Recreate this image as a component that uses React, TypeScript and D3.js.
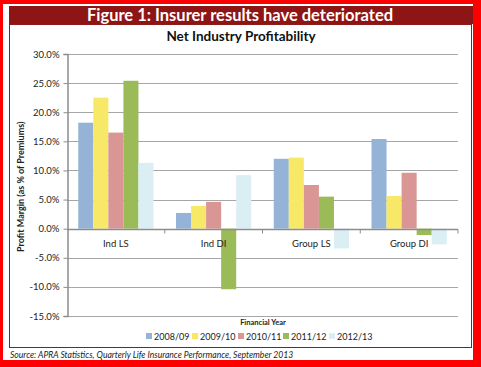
import React, { useEffect, useRef } from 'react';
import * as d3 from 'd3';

const categories = ['Ind LS', 'Ind DI', 'Group LS', 'Group DI'];
const years = ['2008/09', '2009/10', '2010/11', '2011/12', '2012/13'];
const colors = ['#95b3d7', '#f7e967', '#d99694', '#9bbb59', '#dbeef4'];
// one array per financial year, values per category (% of premiums)
const y0809 = [18.2, 2.7, 12.0, 15.4];
const y0910 = [22.5, 3.9, 12.2, 5.6];
const y1011 = [16.5, 4.6, 7.5, 9.6];
const y1112 = [25.4, -10.4, 5.5, -1.1];
const y1213 = [11.3, 9.2, -3.4, -2.7];
const seriesValues = [y0809, y0910, y1011, y1112, y1213];
const yTicks = [-15, -10, -5, 0, 5, 10, 15, 20, 25, 30];

const FONT = 'Lato, "Open Sans", sans-serif';

const Chart: React.FC = () => {
  const svgRef = useRef<SVGSVGElement>(null);

  useEffect(() => {
    if (!svgRef.current) return;
    const width = 481;
    const height = 367;
    const svg = d3.select(svgRef.current);
    svg.selectAll('*').remove();
    svg.attr('width', width).attr('height', height);

    // frame
    svg.append('rect').attr('width', width).attr('height', height).attr('fill', '#ff0000');
    svg.append('rect').attr('x', 3).attr('y', 4).attr('width', 470).attr('height', 356).attr('fill', '#fff');
    svg.append('rect').attr('x', 9).attr('y', 6).attr('width', 464).attr('height', 18).attr('fill', '#8e1515');
    svg.append('text')
      .attr('x', 240).attr('y', 20.5)
      .attr('text-anchor', 'middle')
      .attr('fill', '#fff')
      .attr('font-family', FONT)
      .attr('font-weight', 'bold')
      .attr('font-size', '16.5px')
      .text('Figure 1: Insurer results have deteriorated');
    svg.append('rect')
      .attr('x', 9.5).attr('y', 24.5).attr('width', 462).attr('height', 323)
      .attr('fill', 'none').attr('stroke', '#8e1a1a').attr('stroke-width', 1);

    svg.append('text')
      .attr('x', 241).attr('y', 40.5)
      .attr('text-anchor', 'middle')
      .attr('fill', '#111')
      .attr('font-family', FONT)
      .attr('font-weight', 'bold')
      .attr('font-size', '13.5px')
      .text('Net Industry Profitability');

    const left = 67;
    const right = 458;
    const y = d3.scaleLinear().domain([-15, 30]).range([316, 54]);
    const x0 = d3.scaleBand().domain(categories).range([left, right]).paddingInner(0.23).paddingOuter(0.115);
    const x1 = d3.scaleBand().domain(years).range([0, x0.bandwidth()]);

    // gridlines
    svg.append('g').selectAll('line').data(yTicks.filter(t => t !== 0)).join('line')
      .attr('x1', left).attr('x2', right)
      .attr('y1', d => Math.round(y(d)) + 0.5).attr('y2', d => Math.round(y(d)) + 0.5)
      .attr('stroke', '#a6a6a6').attr('stroke-width', 1);

    // bars
    const groups = svg.append('g').selectAll('g').data(categories).join('g')
      .attr('transform', d => `translate(${x0(d)},0)`);
    groups.selectAll('rect')
      .data((_, ci) => years.map((yr, si) => ({ yr, si, v: seriesValues[si][ci] })))
      .join('rect')
      .attr('x', d => x1(d.yr)!)
      .attr('width', x1.bandwidth())
      .attr('y', d => y(Math.max(0, d.v)))
      .attr('height', d => Math.abs(y(d.v) - y(0)))
      .attr('fill', d => colors[d.si]);

    // y axis
    const yAxis = d3.axisLeft(y).tickValues(yTicks).tickSize(4)
      .tickFormat(d => `${(d as number).toFixed(1)}%`);
    const ya = svg.append('g').attr('transform', `translate(${left + 0.5},0)`).call(yAxis);
    ya.select('.domain').attr('stroke', '#8c8c8c').attr('stroke-width', 1.5);
    ya.selectAll('.tick line').attr('stroke', '#8c8c8c');
    ya.selectAll('.tick text')
      .attr('x', -8)
      .attr('fill', '#222')
      .attr('font-family', FONT)
      .attr('font-size', '9.5px');

    // zero axis
    const zy = Math.round(y(0)) + 0.5;
    svg.append('line').attr('x1', left).attr('x2', right).attr('y1', zy).attr('y2', zy)
      .attr('stroke', '#8c8c8c').attr('stroke-width', 1.5);
    const bounds = [0, 1, 2, 3, 4].map(i => left + (i * (right - left)) / 4);
    svg.append('g').selectAll('line').data(bounds.slice(1)).join('line')
      .attr('x1', d => d).attr('x2', d => d).attr('y1', zy).attr('y2', zy + 4)
      .attr('stroke', '#8c8c8c');
    svg.append('g').selectAll('text').data(categories).join('text')
      .attr('x', d => x0(d)! + x0.bandwidth() / 2)
      .attr('y', zy + 17)
      .attr('text-anchor', 'middle')
      .attr('fill', '#222')
      .attr('font-family', FONT)
      .attr('font-size', '9.5px')
      .text(d => d);

    // y title
    svg.append('text')
      .attr('transform', `translate(24,${y(7.2)}) rotate(-90)`)
      .attr('text-anchor', 'middle')
      .attr('fill', '#222')
      .attr('font-family', FONT)
      .attr('font-weight', 'bold')
      .attr('font-size', '9px')
      .text('Profit Margin (as % of Premiums)');

    // x title
    svg.append('text')
      .attr('x', 263).attr('y', 325)
      .attr('text-anchor', 'middle')
      .attr('fill', '#222')
      .attr('font-family', FONT)
      .attr('font-weight', 'bold')
      .attr('font-size', '7.5px')
      .text('Financial Year');

    // legend
    const legendX = [146, 192, 238, 283, 329];
    const lg = svg.append('g').selectAll('g').data(years).join('g')
      .attr('transform', (_, i) => `translate(${legendX[i]},333)`);
    lg.append('rect').attr('width', 6).attr('height', 6).attr('fill', (_, i) => colors[i]);
    lg.append('text')
      .attr('x', 8).attr('y', 6.5)
      .attr('fill', '#222')
      .attr('font-family', FONT)
      .attr('font-size', '9px')
      .text(d => d);

    svg.append('text')
      .attr('x', 10).attr('y', 358)
      .attr('fill', '#222')
      .attr('font-family', FONT)
      .attr('font-style', 'italic')
      .attr('font-size', '8.6px')
      .text('Source: APRA Statistics, Quarterly Life Insurance Performance, September 2013');
  }, []);

  return <svg ref={svgRef} />;
};

export default function App() {
  return (
    <div style={{ position: 'absolute', left: 0, top: 0 }}>
      <Chart />
    </div>
  );
}
